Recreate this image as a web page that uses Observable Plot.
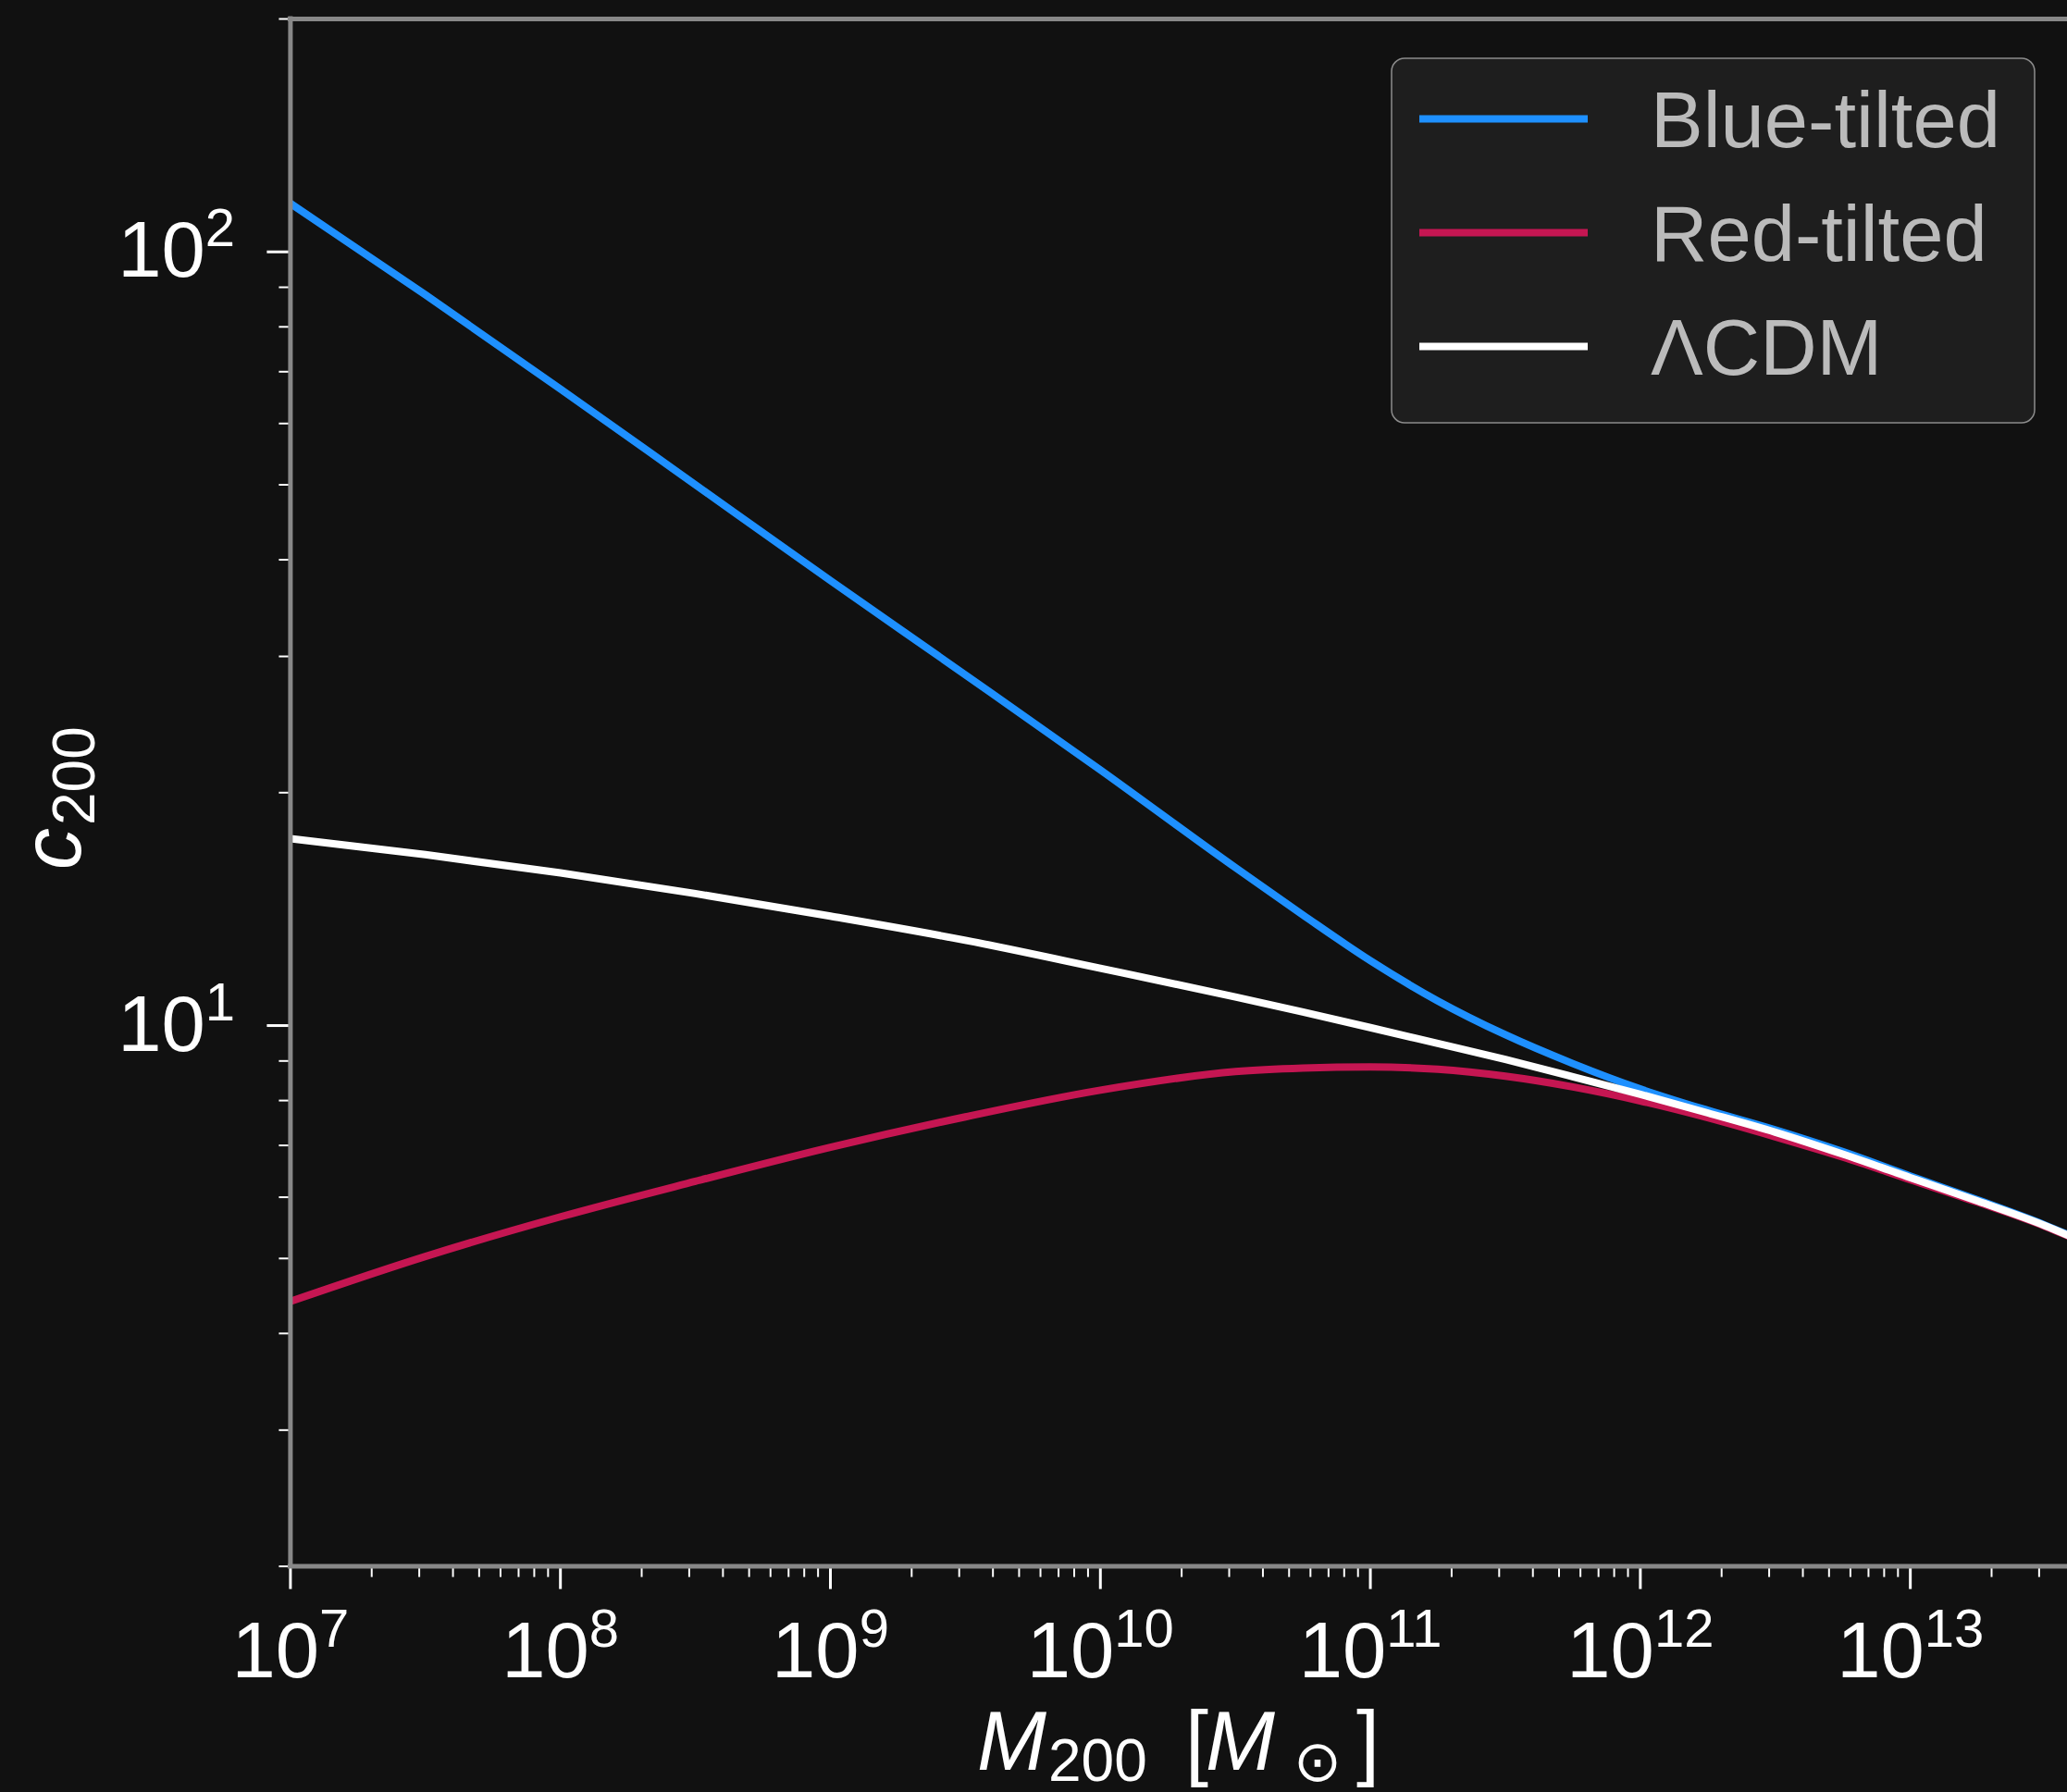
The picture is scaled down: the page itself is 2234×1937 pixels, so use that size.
<!DOCTYPE html>
<html>
<head>
<meta charset="utf-8">
<script src="https://cdn.jsdelivr.net/npm/d3@7"></script>
<script src="https://cdn.jsdelivr.net/npm/@observablehq/plot@0.6"></script>
<style>
html, body { margin: 0; padding: 0; background: #111111; }
#chart svg { display: block; }
</style>
</head>
<body>
<div id="chart"></div>
<script>
// ---------------- data ----------------
const mass = [1e7, 3.162e7, 1e8, 3.162e8, 1e9, 3.162e9, 1e10, 3.162e10, 5.623e10, 1e11,
              1.778e11, 3.162e11, 5.623e11, 1e12, 1.778e12, 3.162e12, 5.623e12, 1e13,
              1.778e13, 3.162e13, 3.82e13];
const blueTilted = [115.5, 88.0, 66.5, 50.0, 37.6, 28.4, 21.4, 16.0, 13.9, 12.13,
                    10.76, 9.73, 8.93, 8.28, 7.77, 7.33, 6.87, 6.39, 5.95, 5.52, 5.37];
const redTilted  = [4.40, 5.03, 5.66, 6.29, 6.96, 7.62, 8.25, 8.72, 8.81, 8.84,
                    8.78, 8.60, 8.33, 7.99, 7.60, 7.18, 6.76, 6.32, 5.91, 5.50, 5.35];
const lcdm       = [17.44, 16.63, 15.75, 14.81, 13.85, 12.89, 11.86, 10.89, 10.41, 9.94,
                    9.48, 9.04, 8.59, 8.15, 7.71, 7.28, 6.82, 6.36, 5.93, 5.51, 5.36];

const seriesNames  = ["Blue-tilted", "Red-tilted", "\u039BCDM"];
const seriesValues = [blueTilted, redTilted, lcdm];
const seriesColors = ["#1e90ff", "#c51652", "#ffffff"];

const xMajorTicks = [1e7, 1e8, 1e9, 1e10, 1e11, 1e12, 1e13];
const xTickExponents = ["7", "8", "9", "10", "11", "12", "13"];
const yMajorTicks = [10, 100];
const yTickExponents = ["1", "2"];
const yMinorTicks = [2, 3, 4, 5, 6, 7, 8, 9, 20, 30, 40, 50, 60, 70, 80, 90, 200];

const xDomain = [1e7, 3.82e13];
const yDomain = [2, 200];
const xMinorTicks = d3.range(7, 14).flatMap(e => d3.range(2, 10).map(k => k * 10 ** e))
  .filter(v => v <= xDomain[1]);

// ---------------- layout ----------------
const W = 2234, H = 1937;
const FONT = "'Liberation Sans', Arial, Helvetica, 'DejaVu Sans', sans-serif";
const table = seriesNames.flatMap((name, i) =>
  mass.map((m, j) => ({ m, c: seriesValues[i][j], series: name })));

const spine = { stroke: "#888888", strokeWidth: 5, strokeLinecap: "square" };

const chart = Plot.plot({
  width: W,
  height: H,
  marginLeft: 313.4,
  marginRight: 0,
  marginTop: 20,
  marginBottom: H - 1692.6,
  style: { background: "#111111", color: "#ffffff", fontFamily: FONT, fontSize: "85px", overflow: "visible" },
  x: { type: "log", domain: xDomain, label: null },
  y: { type: "log", domain: yDomain, label: null },
  color: { domain: seriesNames, range: seriesColors },
  marks: [
    Plot.line(table, { x: "m", y: "c", z: "series", stroke: "series", strokeWidth: 8,
                       curve: "monotone-x", clip: true }),
    Plot.axisX({ ticks: xMinorTicks, tickSize: 12, tickFormat: () => "", stroke: "#ffffff",
                 strokeWidth: 2, label: null }),
    Plot.axisX({ ticks: xMajorTicks, tickSize: 25, tickPadding: 34.4, stroke: "#ffffff",
                 strokeWidth: 3, fill: "#ffffff", fontSize: 85, label: null,
                 tickFormat: d => "10^" + xTickExponents[xMajorTicks.indexOf(d)] }),
    Plot.axisY({ ticks: yMinorTicks, tickSize: 12, tickFormat: () => "", stroke: "#ffffff",
                 strokeWidth: 2, label: null }),
    Plot.axisY({ ticks: yMajorTicks, tickSize: 25, tickPadding: 34.8, stroke: "#ffffff",
                 strokeWidth: 3, fill: "#ffffff", fontSize: 85, label: null,
                 tickFormat: d => "10^" + yTickExponents[yMajorTicks.indexOf(d)] }),
    Plot.ruleX([xDomain[0]], spine),
    Plot.ruleY(yDomain, spine)
  ]
});
document.getElementById("chart").appendChild(chart);

// ---------------- superscript tick labels ----------------
const NS = "http://www.w3.org/2000/svg";
chart.querySelectorAll("text").forEach(t => {
  const m = t.textContent.match(/^10\^(\d+)$/);
  if (!m) return;
  t.textContent = "";
  const base = document.createElementNS(NS, "tspan");
  base.textContent = "10";
  const sup = document.createElementNS(NS, "tspan");
  sup.setAttribute("dy", "-33");
  sup.setAttribute("font-size", "58");
  sup.textContent = m[1];
  t.append(base, sup);
});

const svg = d3.select(chart);

// ---------------- axis labels ----------------
const xl = svg.append("text").attr("fill", "#ffffff").attr("font-family", FONT)
  .attr("text-anchor", "start").attr("font-size", 90).attr("y", 1913);
xl.append("tspan").attr("x", 1056).attr("font-style", "italic").text("M");
xl.append("tspan").attr("x", 1133).attr("dy", 12).attr("font-size", 64).text("200");
xl.append("tspan").attr("x", 1281).attr("dy", -12).text("[");
xl.append("tspan").attr("x", 1303).attr("font-style", "italic").text("M");
xl.append("tspan").attr("x", 1398).attr("dy", 12).attr("font-size", 62)
  .attr("font-family", "'DejaVu Sans', sans-serif").text("\u2299");
xl.append("tspan").attr("x", 1466).attr("dy", -12).text("]");

const yl = svg.append("text").attr("fill", "#ffffff").attr("font-family", FONT)
  .attr("text-anchor", "start").attr("font-size", 90)
  .attr("transform", "translate(87,940) rotate(-90)");
yl.append("tspan").attr("x", 0).attr("font-style", "italic").text("c");
yl.append("tspan").attr("x", 48).attr("dy", 15).attr("font-size", 64).text("200");

// ---------------- legend ----------------
const lg = svg.append("g").attr("font-family", FONT).attr("text-anchor", "start");
lg.append("rect").attr("x", 1504).attr("y", 63).attr("width", 695).attr("height", 394)
  .attr("rx", 14).attr("fill", "#1e1e1e").attr("stroke", "#8c8c8c").attr("stroke-width", 1.5);
seriesNames.forEach((name, i) => {
  const yc = 128.5 + i * 123;
  lg.append("line").attr("x1", 1534).attr("x2", 1716).attr("y1", yc).attr("y2", yc)
    .attr("stroke", seriesColors[i]).attr("stroke-width", 8);
  lg.append("text").attr("x", 1784).attr("y", yc + 30).attr("fill", "#bbbbbb")
    .attr("font-size", 85).text(name);
});
</script>
</body>
</html>
